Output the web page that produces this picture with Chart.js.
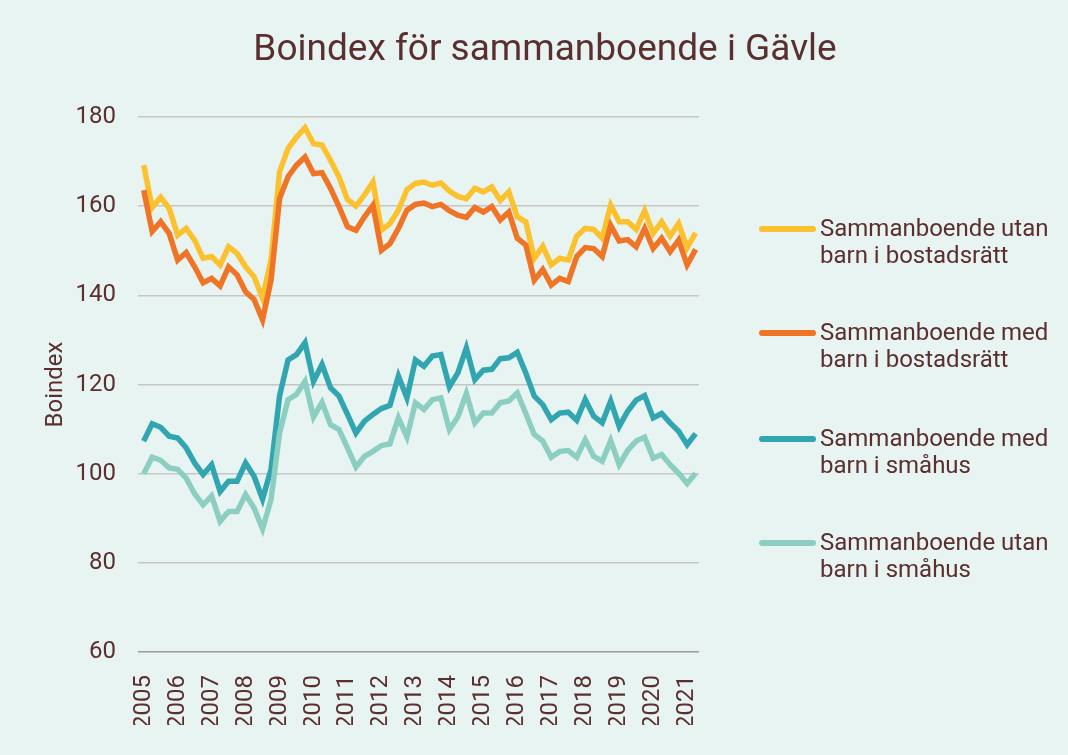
<!DOCTYPE html>
<html lang="sv">
<head>
<meta charset="utf-8">
<title>Boindex för sammanboende i Gävle</title>
<script src="https://cdn.jsdelivr.net/npm/chart.js@4.4.1/dist/chart.umd.min.js"></script>
<style>
    html, body { margin: 0; padding: 0; background: #e8f4f1; }
    #wrap { position: relative; width: 1068px; height: 755px; background: #e8f4f1; font-family: Roboto, "Noto Sans", sans-serif; color: #5b2f2f; overflow: hidden; }
    #chart { position: absolute; left: 0; top: 0; }
    #title { position: absolute; left: 545px; top: 29px; transform: translateX(-50%); white-space: nowrap; font-size: 37px; line-height: 37px; }
    .leg-item { position: absolute; left: 759px; }
    .leg-line { position: absolute; left: 0; width: 57px; height: 6px; border-radius: 3px; }
    .leg-text { position: absolute; left: 61px; top: 0; font-size: 24px; line-height: 27px; white-space: nowrap; }
</style>
</head>
<body>
<div id="wrap">
    <canvas id="chart" width="1068" height="755"></canvas>
    <div id="title">Boindex för sammanboende i Gävle</div>
    <div id="legend"></div>
</div>
<script>
// tick labels (one per year, data is quarterly)
const years = [2005, 2006, 2007, 2008, 2009, 2010, 2011, 2012, 2013, 2014, 2015, 2016, 2017, 2018, 2019, 2020, 2021];
const yTicks = [60, 80, 100, 120, 140, 160, 180];

const seriesNames = [
    ['Sammanboende utan', 'barn i bostadsrätt'],
    ['Sammanboende med', 'barn i bostadsrätt'],
    ['Sammanboende med', 'barn i småhus'],
    ['Sammanboende utan', 'barn i småhus']
];
const seriesColors = ['#fcc12e', '#ef7426', '#31a5b0', '#8ccfc2'];

// quarterly values 2005 Q1 - 2021 Q2
const utanBarnBostadsratt = [
    169.2, 159.7, 162.0, 159.5, 153.5, 155.0, 152.4, 148.3, 148.7, 146.8,
    150.9, 149.4, 146.4, 144.2, 139.3, 148.0, 167.7, 172.9, 175.5, 177.6,
    174.0, 173.7, 170.3, 166.6, 161.5, 160.0, 162.5, 165.4, 154.6, 156.1,
    159.1, 163.7, 165.1, 165.4, 164.7, 165.2, 163.4, 162.2, 161.7, 164.0,
    163.2, 164.3, 161.3, 163.2, 157.6, 156.5, 148.3, 151.0, 146.8, 148.3,
    147.9, 153.3, 155.0, 154.8, 152.8, 160.2, 156.5, 156.5, 154.8, 159.0,
    153.9, 156.5, 153.3, 156.1, 150.7, 154.0
];
const medBarnBostadsratt = [
    163.6, 154.3, 156.5, 153.9, 147.9, 149.6, 146.4, 142.8, 143.8, 142.1,
    146.4, 144.6, 140.8, 139.1, 134.5, 143.4, 161.7, 166.6, 169.2, 171.0,
    167.3, 167.5, 164.0, 159.9, 155.4, 154.6, 157.6, 160.2, 150.1, 151.6,
    155.0, 159.1, 160.4, 160.7, 159.9, 160.4, 159.0, 158.0, 157.5, 159.7,
    158.7, 159.9, 156.9, 158.7, 152.8, 151.3, 143.4, 145.8, 142.3, 143.8,
    143.1, 148.7, 150.7, 150.5, 148.7, 155.7, 152.2, 152.5, 150.9, 155.0,
    150.5, 152.8, 149.8, 152.4, 146.8, 150.3
];
const medBarnSmahus = [
    107.3, 111.2, 110.4, 108.4, 108.0, 105.8, 102.4, 99.8, 102.0, 96.0,
    98.3, 98.3, 102.4, 99.4, 94.3, 101.0, 117.4, 125.5, 126.7, 129.4,
    120.7, 124.5, 119.3, 117.4, 113.3, 109.1, 111.8, 113.3, 114.6, 115.3,
    121.9, 117.0, 125.5, 124.1, 126.4, 126.7, 119.5, 122.6, 128.2, 121.1,
    123.2, 123.4, 125.8, 126.0, 127.2, 122.6, 117.4, 115.5, 112.1, 113.6,
    113.8, 112.0, 116.6, 112.9, 111.4, 116.3, 110.6, 114.0, 116.5, 117.5,
    112.5, 113.5, 111.4, 109.5, 106.5, 109.0
];
const utanBarnSmahus = [
    100.0, 103.7, 103.0, 101.3, 101.0, 99.0, 95.5, 93.0, 95.0, 89.3,
    91.5, 91.5, 95.3, 92.3, 87.6, 94.2, 109.1, 116.6, 117.8, 120.7,
    112.7, 116.0, 111.0, 109.9, 105.8, 101.5, 103.9, 105.0, 106.3, 106.7,
    112.5, 108.2, 115.9, 114.4, 116.6, 117.0, 109.9, 112.7, 118.0, 111.4,
    113.6, 113.6, 115.9, 116.3, 118.1, 113.5, 108.8, 107.3, 103.7, 105.0,
    105.2, 103.7, 107.6, 103.9, 102.8, 107.4, 102.0, 105.2, 107.3, 108.2,
    103.5, 104.3, 102.0, 100.1, 97.8, 100.1
];

const allSeries = [utanBarnBostadsratt, medBarnBostadsratt, medBarnSmahus, utanBarnSmahus];
const textColor = '#5b2f2f';
const fontFamily = 'Roboto, "Noto Sans", sans-serif';

const datasets = allSeries.map((values, i) => ({
    label: seriesNames[i].join(' '),
    data: values.map((v, q) => ({ x: q, y: v })),
    borderColor: seriesColors[i],
    backgroundColor: seriesColors[i],
    borderWidth: 5.5,
    pointRadius: 0,
    tension: 0,
    order: allSeries.length - i // later series drawn on top, like the original
}));

new Chart(document.getElementById('chart'), {
    type: 'line',
    data: { datasets: datasets },
    options: {
        responsive: false,
        animation: false,
        layout: { padding: { top: 117, left: 0, right: 369, bottom: 30 } },
        plugins: {
            legend: { display: false },
            title: { display: false },
            tooltip: { enabled: false }
        },
        scales: {
            x: {
                type: 'linear',
                min: -0.67,
                max: 65.4,
                afterFit: s => { s.height = 73; },
                afterBuildTicks: s => { s.ticks = years.map((y, i) => ({ value: i * 4 })); },
                grid: { display: false },
                border: { display: false },
                ticks: {
                    autoSkip: false,
                    minRotation: 90,
                    maxRotation: 90,
                    padding: 15,
                    color: textColor,
                    font: { family: fontFamily, size: 24 },
                    callback: v => years[Math.round(v / 4)]
                }
            },
            y: {
                min: 60,
                max: 180,
                afterFit: s => { s.width = 138; },
                afterBuildTicks: s => { s.ticks = yTicks.map(v => ({ value: v })); },
                border: { display: false },
                grid: {
                    drawTicks: false,
                    lineWidth: 1.6,
                    color: ctx => ctx.tick && ctx.tick.value === 60 ? '#9c9a9a' : '#c6c6c6'
                },
                ticks: {
                    padding: 22,
                    color: textColor,
                    font: { family: fontFamily, size: 24 }
                },
                title: {
                    display: true,
                    text: 'Boindex',
                    color: textColor,
                    font: { family: fontFamily, size: 24 },
                    padding: { top: 42, bottom: 0 }
                }
            }
        }
    }
});

// legend on the right, two text lines per entry
const legendBox = document.getElementById('legend');
const legendCenters = [229, 333, 439, 543];
legendBox.innerHTML = seriesNames.map((name, i) => `
    <div class="leg-item" style="top:${legendCenters[i] - 14}px">
        <div class="leg-line" style="top:11px; background:${seriesColors[i]}"></div>
        <div class="leg-text">${name[0]}<br>${name[1]}</div>
    </div>`).join('');
</script>
</body>
</html>
